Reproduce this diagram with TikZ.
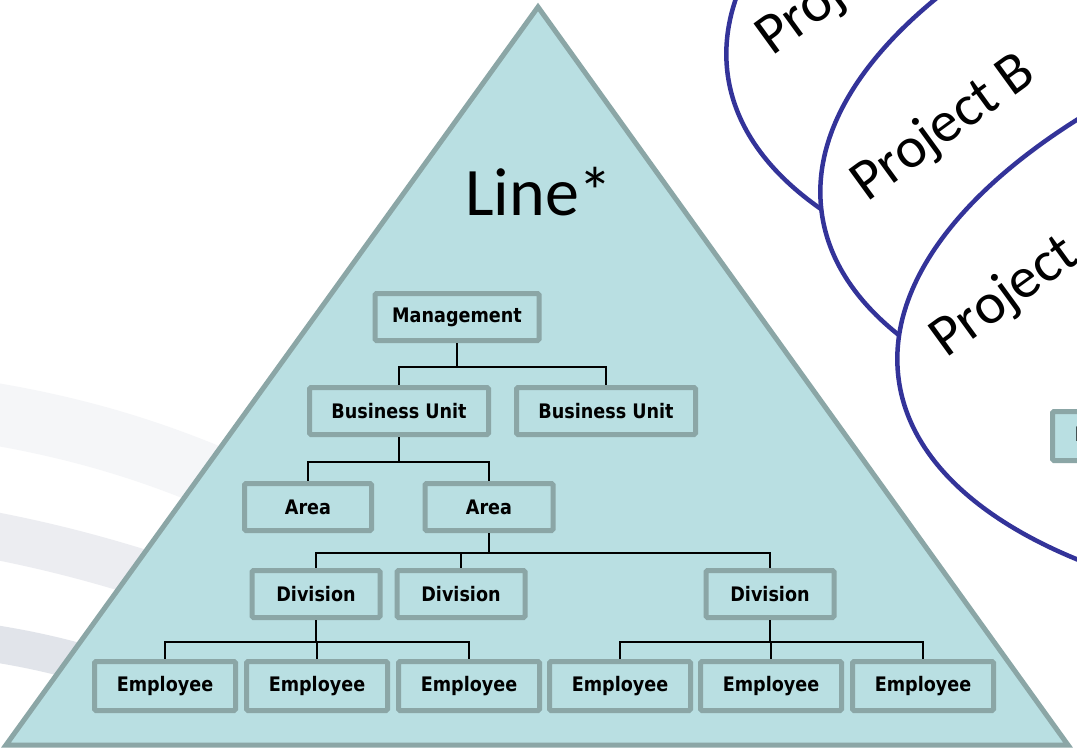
\documentclass[tikz,border=0pt]{standalone}
\usepackage{fontspec}
\setmainfont{Carlito}
\newfontfamily\orgfont{DejaVu Sans}[FakeStretch=0.88]
\usetikzlibrary{positioning}

\definecolor{linefill}{RGB}{185,223,226}
\definecolor{lineedge}{RGB}{139,166,166}
\definecolor{projblue}{RGB}{51,51,153}
\definecolor{bandA}{RGB}{245,246,248}
\definecolor{bandB}{RGB}{236,237,241}
\definecolor{bandC}{RGB}{225,228,234}

\begin{document}
\begin{tikzpicture}
		[x=1pt,y=-1pt,
		org node/.style={shape=rectangle,draw=lineedge,fill=linefill,line width=5pt,rounded corners=1.5pt,inner sep=0pt,minimum height=47pt,font=\orgfont\bfseries\fontsize{20}{24}\selectfont},
		emp node/.style={org node,minimum width=141pt,minimum height=49pt},
		link/.style={draw=black,line width=2pt},
		elbow/.style={to path={-- ++(0,#1) -| (\tikztotarget)}},
		project/.style={draw=projblue,line width=4.5pt,fill=white},
		project label/.style={anchor=base west,inner sep=0pt,rotate=36,font=\fontsize{58}{66}\selectfont}]
		
		\useasboundingbox (0,0) rectangle (1077,750);
		\fill[white] (0,0) rectangle (1077,750);
		\clip (0,0) rectangle (1077,750);
		
		% faint bands behind
		\draw[bandA,line width=62pt] (-30,410) .. controls (60,424) and (150,446) .. (260,498);
		\draw[bandB,line width=47pt] (-30,531) .. controls (40,544) and (100,558) .. (200,592);
		\draw[bandC,line width=37pt] (-30,640) .. controls (20,647) and (60,655) .. (120,674);
		
		% line organisation
		\draw[draw=lineedge,fill=linefill,line width=5pt] (538,7) -- (6,745) -- (1068,745) -- cycle;
		\node [font=\fontsize{68}{80}\selectfont,inner sep=0pt,anchor=base] (line) at (539,215) {Line*};
		
		\node [org node,minimum width=164pt] (mgmt) at (457,317) {Management};
		\node [org node,minimum width=179pt] (bu1) at (399,411) {Business Unit};
		\node [org node,minimum width=179pt] (bu2) at (606,411) {Business Unit};
		\node [org node,minimum width=127pt] (area1) at (308,507) {Area};
		\node [org node,minimum width=128pt] (area2) at (489,507) {Area};
		\node [org node,minimum width=128pt] (div1) at (316,594) {Division};
		\node [org node,minimum width=128pt] (div2) at (461,594) {Division};
		\node [org node,minimum width=128pt] (div3) at (770,594) {Division};
		
		\node [emp node] (emp1) at (165,686) {Employee};
		\node [emp node] (emp2) at (317,686) {Employee};
		\node [emp node] (emp3) at (469,686) {Employee};
		\node [emp node] (emp4) at (620,686) {Employee};
		\node [emp node] (emp5) at (771,686) {Employee};
		\node [emp node] (emp6) at (923,686) {Employee};
		
		\path[link]
		(mgmt.south) edge [elbow=23.5] (bu1.north)
		(mgmt.south) edge [elbow=23.5] (bu2.north)
		(bu1.south) edge [elbow=24.5] (area1.north)
		(bu1.south) edge [elbow=24.5] (area2.north)
		
		(area2.south) edge [elbow=20] (div1.north)
		(area2.south) edge [elbow=20] (div2.north)
		(area2.south) edge [elbow=20] (div3.north)
		
		(div1.south) edge [elbow=22] (emp1.north)
		(div1.south) edge [elbow=22] (emp2.north)
		(div1.south) edge [elbow=22] (emp3.north)
		(div3.south) edge [elbow=22] (emp4.north)
		(div3.south) edge [elbow=22] (emp5.north)
		(div3.south) edge [elbow=22] (emp6.north)
		;
		
		% projects
		\draw[project,rotate around={8:(1421,-22)}] (1421,-22) ellipse [x radius=700,y radius=325];
		\node [project label] (projA) at (772,57) {Project A};
		\draw[project,rotate around={8:(1515,116)}] (1515,116) ellipse [x radius=700,y radius=325];
		\node [project label] (projB) at (867,203) {Project B};
		\draw[project,rotate around={8:(1592,283)}] (1592,283) ellipse [x radius=700,y radius=325];
		\node [project label] (projC) at (946,359) {Project C};
		
		\node [emp node] (emp7) at (1123,436) {Employee};
		
\end{tikzpicture}
\end{document}
